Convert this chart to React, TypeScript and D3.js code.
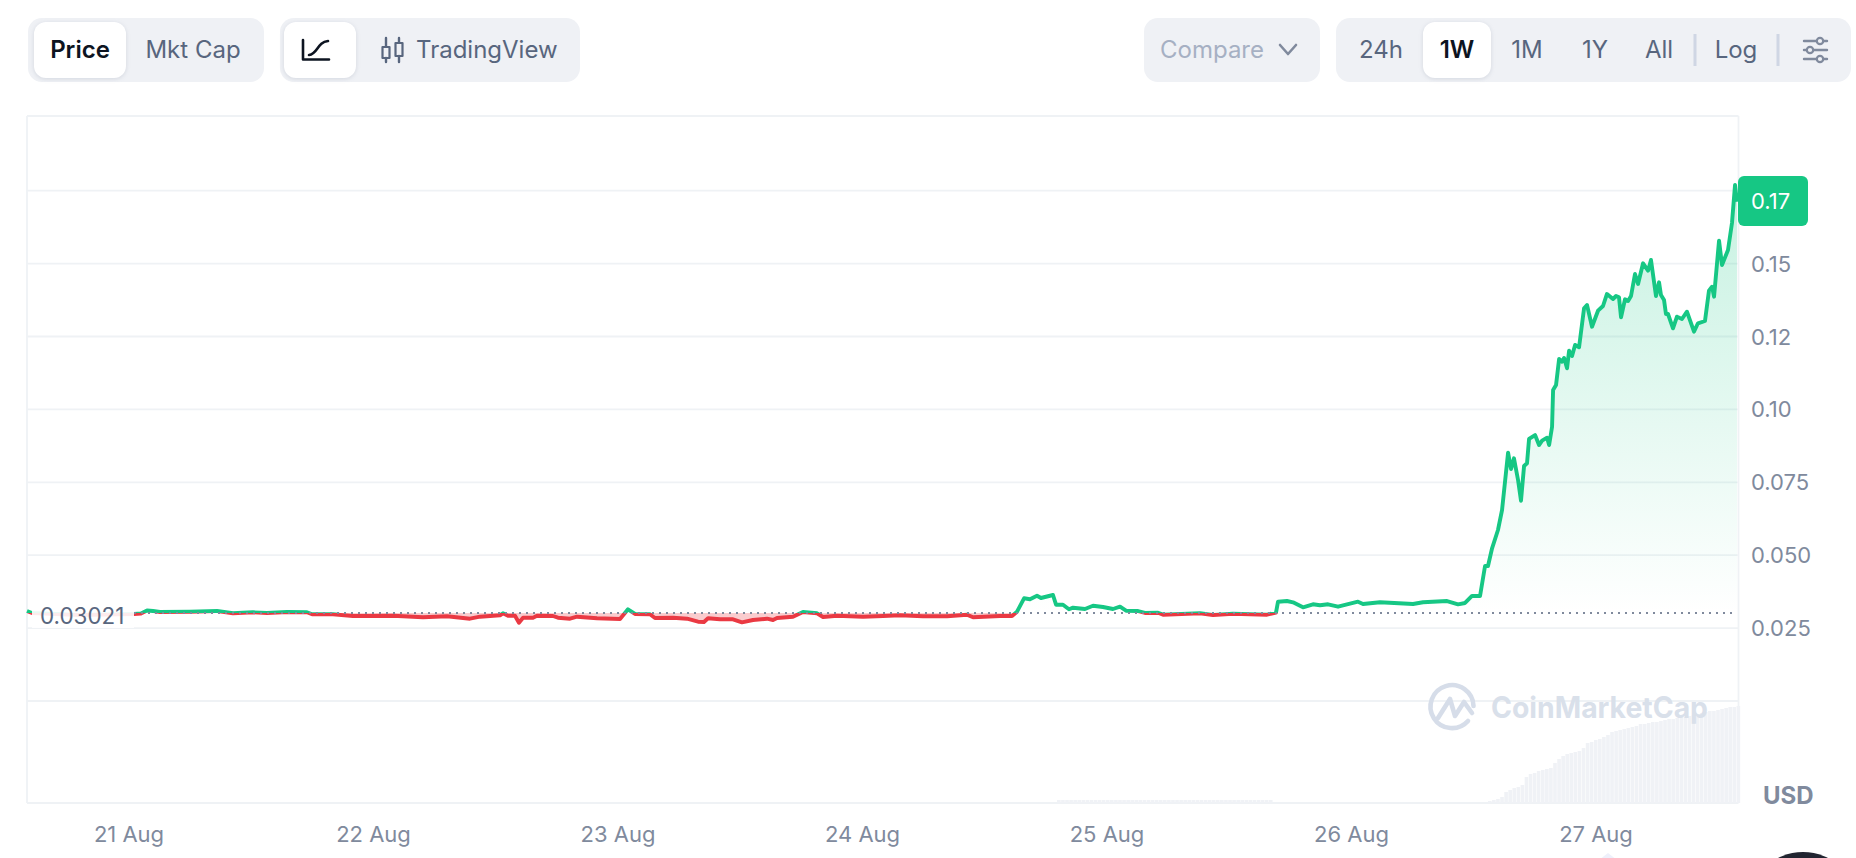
import React, { useEffect, useRef } from "react";
import * as d3 from "d3";

// hours after 21 Aug 00:00 (the series starts on the afternoon of 20 Aug)
const hours = [
  -10.11, -9.62, -5, 0.39, 1.08, 1.67, 2.26, 2.94, 5.89, 8.54, 10.11, 12.07, 13.45, 15.41, 17.37, 17.87, 19.93,
  21.89, 23.26, 25.82, 28.76, 31.12, 33.37, 34.36, 36.32, 36.61, 37.1, 37.79, 38.18, 38.58, 39.56, 39.95, 41.52,
  42.01, 43.19, 43.88, 45.84, 48.1, 48.88, 49.57, 51.04, 51.53, 53.3, 54.68, 55.76, 56.34, 56.74, 57.91, 59.19,
  60.07, 61.15, 62.53, 63.12, 63.51, 65.08, 66.06, 67.44, 68.03, 69.4, 71.95, 73.92, 75.58, 77.84, 80.2, 82.16,
  82.75, 85.4, 86.58, 87.07, 87.76, 88.34, 89.03, 89.42, 90.6, 90.9, 91.58, 92.17, 92.57, 93.74, 94.53, 95.51,
  96.49, 97.18, 97.77, 98.95, 99.63, 100.91, 101.4, 105.03, 106.31, 108.27, 111.61, 112.49, 112.69, 113.57,
  114.16, 115.14, 116.12, 116.81, 117.6, 118.58, 120.54, 121.03, 122.7, 125.94, 126.92, 129.28, 130.36, 131.05,
  131.73, 132.52, 133.01, 133.3, 133.7, 134.28, 134.68, 135.27, 135.56, 135.85, 136.25, 136.54, 136.84, 137.13,
  137.33, 137.92, 138.31, 138.61, 139.1, 139.3, 139.59, 139.69, 139.98, 140.28, 140.57, 140.77, 141.06, 141.26,
  141.55, 141.85, 142.24, 142.73, 143.02, 143.51, 144.1, 144.59, 144.98, 145.57, 145.87, 146.16, 146.36, 146.75,
  147.05, 147.34, 147.73, 148.03, 148.52, 149.01, 149.3, 149.79, 150.09, 150.28, 150.58, 150.77, 150.97, 151.46,
  151.85, 152.34, 152.83, 153.52, 153.91, 154.6, 154.99, 155.29, 155.49, 155.98, 156.27, 156.86, 157.25, 157.55,
  157.74,
];

const prices = [
  0.03086, 0.03018, 0.0295, 0.02984, 0.03001, 0.03104, 0.03086, 0.03052, 0.03062, 0.03086, 0.03008, 0.03042,
  0.03018, 0.03052, 0.03042, 0.02973, 0.02973, 0.02915, 0.02915, 0.02925, 0.0287, 0.02905, 0.02822, 0.02891,
  0.02939, 0.03008, 0.02925, 0.02925, 0.02685, 0.02857, 0.02857, 0.02925, 0.02915, 0.02857, 0.02822, 0.02891,
  0.02836, 0.02812, 0.03145, 0.02984, 0.02973, 0.02846, 0.02857, 0.02822, 0.0272, 0.02709, 0.02836, 0.02802,
  0.02802, 0.02699, 0.02778, 0.02822, 0.02778, 0.02846, 0.02891, 0.03052, 0.03008, 0.02881, 0.02925, 0.02891,
  0.02915, 0.02939, 0.02905, 0.02905, 0.0296, 0.0287, 0.02915, 0.02915, 0.03062, 0.03522, 0.03488, 0.03611,
  0.03532, 0.03635, 0.03303, 0.03303, 0.03145, 0.032, 0.03155, 0.03268, 0.03224, 0.03155, 0.03234, 0.03097,
  0.03086, 0.03018, 0.03028, 0.0296, 0.03008, 0.02949, 0.02994, 0.0296, 0.03028, 0.03405, 0.03429, 0.03385,
  0.03213, 0.03316, 0.03282, 0.03316, 0.03234, 0.03405, 0.03327, 0.03385, 0.03327, 0.03385, 0.03429, 0.03316,
  0.03361, 0.03601, 0.03601, 0.0463, 0.0463, 0.05237, 0.05864, 0.0655, 0.08515, 0.07956, 0.08323, 0.07579,
  0.06869, 0.08059, 0.08152, 0.08985, 0.09122, 0.08779, 0.08927, 0.0903, 0.08779, 0.09407, 0.10665, 0.10837,
  0.11729, 0.11636, 0.11763, 0.1141, 0.12013, 0.11831, 0.12209, 0.1213, 0.13467, 0.1358, 0.12836, 0.13385,
  0.13546, 0.13958, 0.13786, 0.13889, 0.13844, 0.13159, 0.13776, 0.13718, 0.13889, 0.14644, 0.14301, 0.1501,
  0.14757, 0.15124, 0.13889, 0.14359, 0.13923, 0.13752, 0.13272, 0.13272, 0.12781, 0.13179, 0.131, 0.13351,
  0.12665, 0.12953, 0.13032, 0.14071, 0.14208, 0.13865, 0.15786, 0.14952, 0.15467, 0.16393, 0.17696, 0.17123,
];

const basePrice = 0.03021;
const lastPriceLabel = "0.17";
// the 0.175 gridline has its label hidden behind the last price tag
const priceTicks = [0.025, 0.05, 0.075, 0.1, 0.125, 0.15, 0.175];
const priceLabels = ["0.025", "0.050", "0.075", "0.10", "0.12", "0.15"];
const dayHours = [0, 24, 48, 72, 96, 120, 144];
const dayLabels = ["21 Aug", "22 Aug", "23 Aug", "24 Aug", "25 Aug", "26 Aug", "27 Aug"];

// volume strip, one bar every 0.4 hours
const earlyVolumeStart = 91;
const earlyVolumes = [
  3, 3, 3, 3, 3, 3, 3, 3, 3, 3, 3, 3, 3, 3, 3, 3, 3, 3, 3, 3, 3, 3, 3, 3, 3, 3, 3, 3, 3, 3, 3, 3, 3, 3, 3, 3, 3, 3,
  3, 3, 3, 3, 3, 3, 3, 3, 3, 3, 3, 3, 3, 3, 3,
];
const lateVolumeStart = 133.3;
const lateVolumes = [
  2, 3, 4, 6, 11, 13, 15, 16, 18, 26, 29, 30, 32, 33, 34, 35, 40, 44, 47, 49, 50, 51, 52, 55, 60, 61, 63, 64, 66, 68,
  71, 72, 73, 74, 75, 76, 77, 79, 79, 80, 81, 81, 82, 83, 84, 84, 85, 86, 86, 87, 88, 89, 90, 91, 92, 92, 93, 94, 95,
  96, 96, 97,
];
const volumeStep = 0.4;

const leftButtons = [
  { label: "Price", x: 80, active: true },
  { label: "Mkt Cap", x: 193, active: false },
];
const rangeButtons = [
  { label: "24h", x: 1381, active: false },
  { label: "1W", x: 1457, active: true },
  { label: "1M", x: 1527, active: false },
  { label: "1Y", x: 1595, active: false },
  { label: "All", x: 1659, active: false },
  { label: "Log", x: 1736, active: false },
];

const GREEN = "#16c784";
const RED = "#ea3943";
const GRID = "#eff2f5";
const PILL = "#eff1f5";
const MUTED = "#808a9d";
const SLATE = "#58667e";
const DARK = "#0d1421";
const FONT = "Inter, sans-serif";

export default function App() {
  const svgRef = useRef<SVGSVGElement>(null);

  useEffect(() => {
    if (!svgRef.current) return;
    const svg = d3.select(svgRef.current);
    svg.selectAll("*").remove();
    svg.attr("font-family", FONT);

    const plot = { left: 27, right: 1738.5, top: 116, bottom: 803 };
    const x = d3.scaleLinear().domain([0, 144]).range([130, 1597]);
    const y = d3.scaleLinear().domain([0, 0.175]).range([701, 190.7]);
    const vol = d3.scaleLinear().domain([0, 97]).range([plot.bottom, 706]);
    const baseY = y(basePrice);
    const series = hours.map((h, i) => ({ h, p: prices[i] }));

    // toolbar
    const pill = (x0: number, x1: number, y0: number, y1: number, r: number, fill: string, shadow = false) => {
      const rect = svg
        .append("rect")
        .attr("x", x0)
        .attr("y", y0)
        .attr("width", x1 - x0)
        .attr("height", y1 - y0)
        .attr("rx", r)
        .attr("fill", fill);
      if (shadow) rect.style("filter", "drop-shadow(0 1px 2px rgba(88,102,126,0.18))");
    };
    pill(28, 264, 18, 82, 14, PILL);
    pill(34, 126, 22, 78, 12, "#fff", true);
    pill(280, 580, 18, 82, 14, PILL);
    pill(284, 356, 22, 78, 12, "#fff", true);
    pill(1144, 1320, 18, 82, 14, PILL);
    pill(1336, 1851, 18, 82, 14, PILL);
    pill(1423, 1491, 22, 78, 12, "#fff", true);

    const buttonText = (label: string, px: number, color: string, weight: number, anchor = "middle") =>
      svg
        .append("text")
        .attr("x", px)
        .attr("y", 58)
        .attr("text-anchor", anchor)
        .attr("font-size", 24)
        .attr("font-weight", weight)
        .attr("fill", color)
        .text(label);

    leftButtons.concat(rangeButtons).forEach((b) => {
      buttonText(b.label, b.x, b.active ? DARK : SLATE, b.active ? 600 : 400);
    });
    buttonText("TradingView", 416, SLATE, 400, "start");
    buttonText("Compare", 1160, "#a6b0c3", 400, "start");

    const icon = (d: string, color: string, width: number) =>
      svg
        .append("path")
        .attr("d", d)
        .attr("fill", "none")
        .attr("stroke", color)
        .attr("stroke-width", width)
        .attr("stroke-linecap", "round")
        .attr("stroke-linejoin", "round");
    icon("M303 40V59.5H329", DARK, 2.6);
    icon("M309 55C318 54 317 42 328 41", DARK, 2.6);
    icon("M386 38V46M386 58V62M399 38V42M399 56V62", SLATE, 2.4);
    icon("M382.5 47H389.5V58H382.5ZM395.5 43H402.5V56H395.5Z", SLATE, 2.2);
    icon("M1280 45L1288 54L1296 45", MUTED, 2.6);
    icon("M1804 41H1827M1804 50H1827M1804 59H1827", MUTED, 2.4);
    [
      [1820, 41],
      [1810, 50],
      [1820, 59],
    ].forEach(([cx, cy]) => {
      svg.append("circle").attr("cx", cx).attr("cy", cy).attr("r", 3.2).attr("fill", PILL).attr("stroke", MUTED).attr("stroke-width", 2.2);
    });
    svg.append("rect").attr("x", 1693.5).attr("y", 34).attr("width", 3).attr("height", 32).attr("fill", "#cfd6e4");
    svg.append("rect").attr("x", 1776.5).attr("y", 34).attr("width", 3).attr("height", 32).attr("fill", "#cfd6e4");

    // defs
    const defs = svg.append("defs");
    defs.append("clipPath").attr("id", "above").append("rect").attr("x", 0).attr("y", 0).attr("width", 1856).attr("height", baseY);
    defs.append("clipPath").attr("id", "below").append("rect").attr("x", 0).attr("y", baseY).attr("width", 1856).attr("height", 858 - baseY);
    const grad = defs
      .append("linearGradient")
      .attr("id", "upFill")
      .attr("gradientUnits", "userSpaceOnUse")
      .attr("x1", 0)
      .attr("x2", 0)
      .attr("y1", y(0.175))
      .attr("y2", baseY);
    grad.append("stop").attr("offset", 0).attr("stop-color", GREEN).attr("stop-opacity", 0.24);
    grad.append("stop").attr("offset", 1).attr("stop-color", GREEN).attr("stop-opacity", 0);

    // plot frame + grid
    const hLine = (yy: number) =>
      svg.append("line").attr("x1", plot.left).attr("x2", plot.right).attr("y1", yy).attr("y2", yy).attr("stroke", GRID).attr("stroke-width", 1.8);
    hLine(plot.top);
    hLine(plot.bottom);
    hLine(y(0));
    priceTicks.forEach((t) => hLine(y(t)));
    [plot.left, plot.right].forEach((px) => {
      svg.append("line").attr("x1", px).attr("x2", px).attr("y1", plot.top).attr("y2", plot.bottom).attr("stroke", GRID).attr("stroke-width", 1.8);
    });

    // volume
    const drawVolume = (values: number[], start: number) => {
      svg
        .append("g")
        .selectAll("rect")
        .data(values)
        .join("rect")
        .attr("x", (_d, i) => x(start + i * volumeStep))
        .attr("y", (d) => vol(d))
        .attr("width", 3.6)
        .attr("height", (d) => plot.bottom - vol(d))
        .attr("fill", "#f0f2f6");
    };
    drawVolume(earlyVolumes, earlyVolumeStart);
    drawVolume(lateVolumes, lateVolumeStart);

    // watermark
    const mark = svg.append("g").attr("fill", "none").attr("stroke", "#d6dde9").attr("stroke-width", 4.6).attr("stroke-linecap", "round").attr("stroke-linejoin", "round");
    mark.append("path").attr("d", "M1473.5 706A21.5 21.5 0 1 0 1468 721");
    mark.append("path").attr("d", "M1438 718L1450 699L1455 716L1464 702L1472 713");
    svg
      .append("text")
      .attr("x", 1491)
      .attr("y", 718)
      .attr("font-size", 29.5)
      .attr("font-weight", 700)
      .attr("fill", "#d9e0ea")
      .attr("textLength", 217)
      .attr("lengthAdjust", "spacingAndGlyphs")
      .text("CoinMarketCap");

    // price fills
    const area = d3
      .area<{ h: number; p: number }>()
      .x((d) => x(d.h))
      .y0(baseY)
      .y1((d) => y(d.p));
    svg.append("path").datum(series).attr("d", area).attr("fill", "url(#upFill)").attr("clip-path", "url(#above)");
    svg.append("path").datum(series).attr("d", area).attr("fill", RED).attr("fill-opacity", 0.26).attr("clip-path", "url(#below)");

    // price line, split at the base price
    const line = d3
      .line<{ h: number; p: number }>()
      .x((d) => x(d.h))
      .y((d) => y(d.p));
    [
      { clip: "above", color: GREEN },
      { clip: "below", color: RED },
    ].forEach((s) => {
      svg
        .append("path")
        .datum(series)
        .attr("d", line)
        .attr("fill", "none")
        .attr("stroke", s.color)
        .attr("stroke-width", 3.9)
        .attr("stroke-linejoin", "round")
        .attr("clip-path", `url(#${s.clip})`);
    });

    // base price marker
    svg
      .append("line")
      .attr("x1", 134)
      .attr("x2", x(157.74))
      .attr("y1", baseY)
      .attr("y2", baseY)
      .attr("stroke", MUTED)
      .attr("stroke-width", 2)
      .attr("stroke-dasharray", "2 5");
    svg.append("rect").attr("x", 32).attr("y", 600).attr("width", 102).attr("height", 28).attr("fill", "#fff").attr("fill-opacity", 0.9);
    svg.append("text").attr("x", 40).attr("y", 624).attr("font-size", 22.4).attr("fill", SLATE).text("0.03021");

    // y labels
    svg
      .append("g")
      .selectAll("text")
      .data(priceTicks.slice(0, priceLabels.length))
      .join("text")
      .attr("x", 1751)
      .attr("y", (d) => y(d) + 8)
      .attr("font-size", 22)
      .attr("fill", MUTED)
      .text((_d, i) => priceLabels[i]);

    // last price tag
    svg.append("rect").attr("x", 1738).attr("y", 176).attr("width", 70).attr("height", 50).attr("rx", 6).attr("fill", GREEN);
    svg.append("text").attr("x", 1751).attr("y", 209).attr("font-size", 22).attr("fill", "#fff").text(lastPriceLabel);

    // x labels
    svg
      .append("g")
      .selectAll("text")
      .data(dayHours)
      .join("text")
      .attr("x", (d) => x(d) - 1)
      .attr("y", 842)
      .attr("text-anchor", "middle")
      .attr("font-size", 22)
      .attr("fill", MUTED)
      .text((_d, i) => dayLabels[i]);

    svg.append("text").attr("x", 1763).attr("y", 804).attr("font-size", 24).attr("font-weight", 700).attr("fill", MUTED).text("USD");

    // bits of page chrome cut off by the screenshot
    svg.append("path").attr("d", "M1608 853L1599 860H1617Z").attr("fill", "#eef0fb");
    svg.append("circle").attr("cx", 1803).attr("cy", 907).attr("r", 55).attr("fill", "#222531");
  }, []);

  return (
    <div style={{ position: "absolute", left: 0, top: 0 }}>
      <svg ref={svgRef} width={1856} height={858} style={{ display: "block" }} />
    </div>
  );
}
